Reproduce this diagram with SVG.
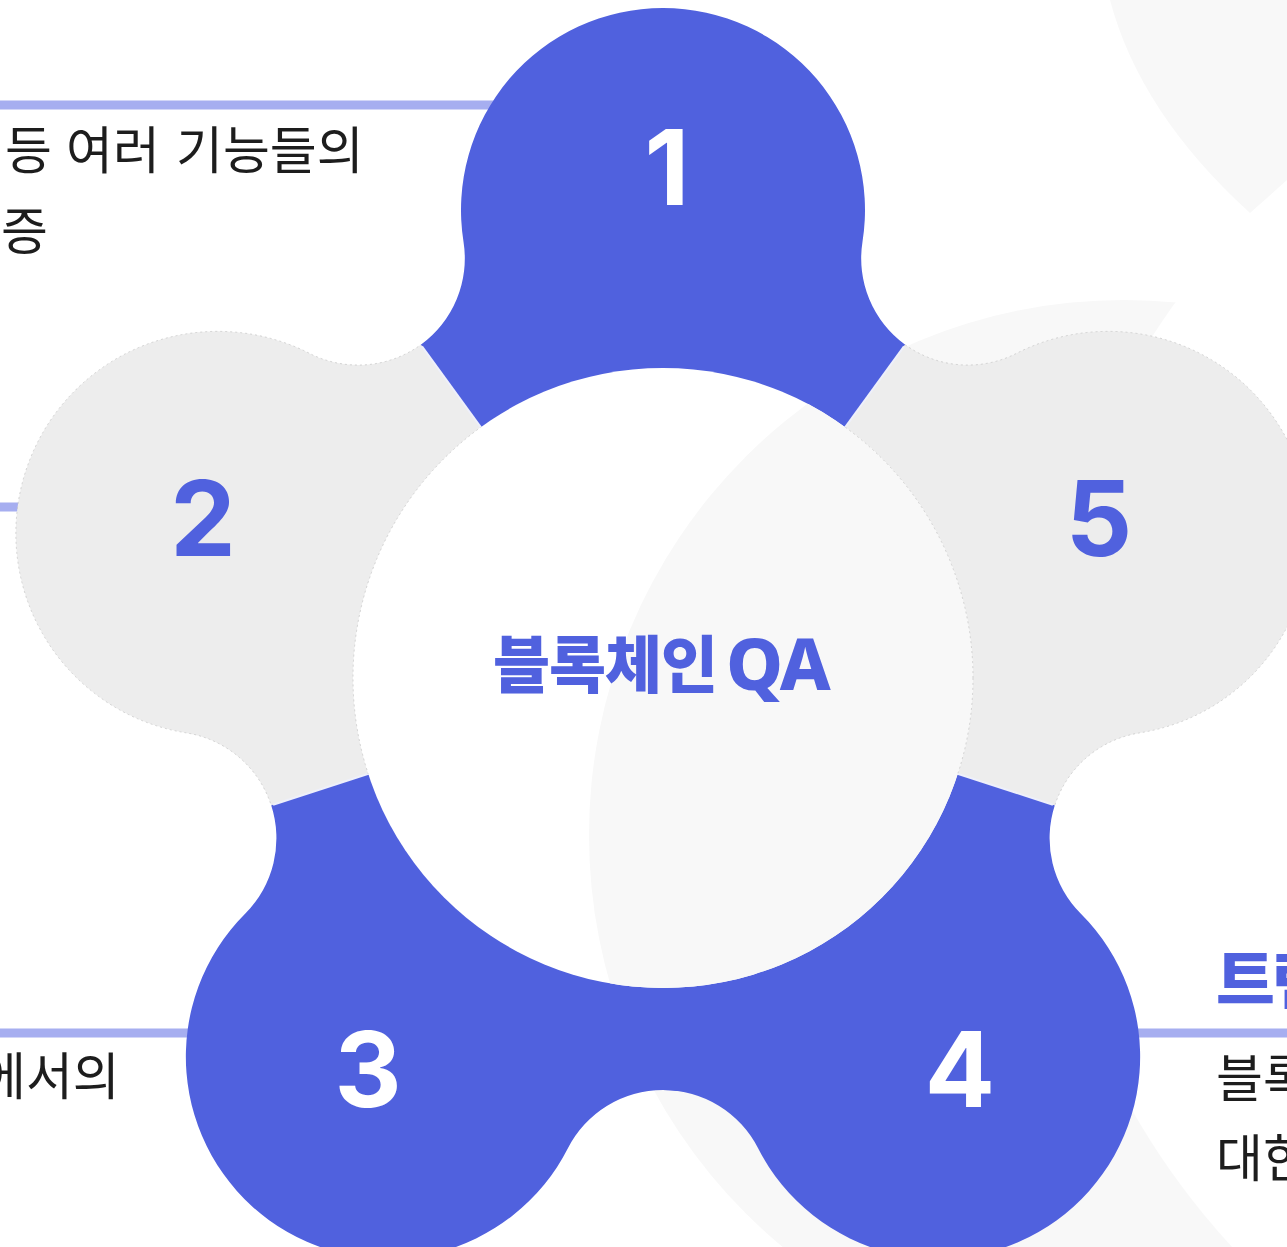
<svg xmlns="http://www.w3.org/2000/svg" width="1287" height="1247" viewBox="0 0 1287 1247">
<style>
.blue{fill:#5061de}
.grey{fill:#ededed}
.num{font-family:Inter,"Noto Sans",sans-serif;font-weight:700;font-size:104px;text-anchor:middle}
.numw{fill:#ffffff}
.numb{fill:#5061de}
.body{font-family:"Noto Sans CJK KR","Noto Sans",sans-serif;font-size:51px;fill:#1d1d1d}
.conn{stroke:#a6aef0;stroke-width:9;fill:none}
.div{stroke:#eef0fb;stroke-width:2}
.faint{fill:#f8f8f8}
.dash{fill:none;stroke:#c4c4c4;stroke-width:0.7;stroke-dasharray:2 3}
</style>
<defs>
<path id="flower" d="M463.5,241.7 A202,202 0 1 1 862.5,241.7 A106.7,106.7 0 0 0 1016.4,353.4 A202,202 0 1 1 1139.6,732.9 A106.7,106.7 0 0 0 1080.9,913.8 A202,202 0 1 1 758.1,1148.3 A106.7,106.7 0 0 0 567.9,1148.3 A202,202 0 1 1 245.1,913.8 A106.7,106.7 0 0 0 186.4,732.9 A202,202 0 1 1 309.6,353.4 A106.7,106.7 0 0 0 463.5,241.7 Z"/>
<clipPath id="w1"><polygon points="663,678 -218.7,-535.5 663,-822 1544.7,-535.5"/></clipPath>
<clipPath id="w5"><polygon points="663,678 1544.7,-535.5 2089.6,214.5 2089.6,1141.5"/></clipPath>
<clipPath id="w4"><polygon points="663,678 2089.6,1141.5 1544.7,1891.5 663,2178"/></clipPath>
<clipPath id="w3"><polygon points="663,678 715.3,2177.1 -218.7,1891.5 -763.6,1141.5"/></clipPath>
<clipPath id="w2"><polygon points="663,678 -763.6,1141.5 -763.6,214.5 -218.7,-535.5"/></clipPath>
<clipPath id="cc"><circle cx="663" cy="678" r="310"/></clipPath>
<mask id="fm" maskUnits="userSpaceOnUse" x="0" y="0" width="1287" height="1247">
<rect width="1287" height="1247" fill="#ffffff"/>
<circle cx="1782" cy="740" r="748" fill="#000000"/>
</mask>
</defs>
<rect width="1287" height="1247" fill="#ffffff"/>
<g id="background">
<circle class="faint" cx="1124" cy="835" r="535" mask="url(#fm)"/>
<path class="faint" d="M1110,0 Q1140,113 1250,213 L1287,180 L1287,0 Z"/>
</g>
<g id="connectors">
<line class="conn" x1="0" y1="105" x2="520" y2="105"/>
<line class="conn" x1="0" y1="507" x2="50" y2="507"/>
<line class="conn" x1="0" y1="1033" x2="240" y2="1033"/>
<line class="conn" x1="1100" y1="1033" x2="1287" y2="1033"/>
</g>
<g id="node-1">
<use href="#flower" class="blue" clip-path="url(#w1)"/>
<text class="num numw" x="667" y="205">1</text>
</g>
<g id="node-2">
<use href="#flower" class="grey" clip-path="url(#w2)"/>
<use href="#flower" class="dash" clip-path="url(#w2)"/>
<text class="num numb" x="203" y="556">2</text>
</g>
<g id="node-3">
<use href="#flower" class="blue" clip-path="url(#w3)"/>
<text class="num numw" x="368" y="1107">3</text>
</g>
<g id="node-4">
<use href="#flower" class="blue" clip-path="url(#w4)"/>
<text class="num numw" x="960" y="1107">4</text>
</g>
<g id="node-5">
<use href="#flower" class="grey" clip-path="url(#w5)"/>
<use href="#flower" class="dash" clip-path="url(#w5)"/>
<text class="num numb" x="1099" y="556">5</text>
</g>
<g id="dividers">
<line class="div" x1="486.7" y1="435.3" x2="422" y2="346.3"/>
<line class="div" x1="839.3" y1="435.3" x2="904" y2="346.3"/>
<line class="div" x1="948.3" y1="770.7" x2="1052.9" y2="804.7"/>
<line class="div" x1="377.7" y1="770.7" x2="273.1" y2="804.7"/>
</g>
<g id="node-center">
<circle cx="663" cy="678" r="310" fill="#ffffff"/>
<g clip-path="url(#cc)">
<circle class="faint" cx="1124" cy="835" r="535"/>
</g>
<circle cx="663" cy="678" r="310" class="dash" clip-path="url(#w5)"/>
<circle cx="663" cy="678" r="310" class="dash" clip-path="url(#w2)"/>
<text x="493" y="688" font-family="'Noto Sans CJK KR','Noto Sans',sans-serif" font-weight="900" fill="#5061de"><tspan font-size="62" letter-spacing="-1">블록체인</tspan><tspan x="726" y="690" font-family="'Noto Sans',Inter,sans-serif" font-weight="800" font-size="72" letter-spacing="-2">QA</tspan></text>
</g>
<g id="text-1">
<text class="body" y="169"><tspan x="5">등</tspan><tspan x="66">여러</tspan><tspan x="176">기능들의</tspan></text>
<text class="body" x="1" y="250">증</text>
</g>
<g id="text-3">
<text class="body" x="-21" y="1095">에서의</text>
</g>
<g id="text-4">
<text x="1216" y="1003" font-family="'Noto Sans CJK KR','Noto Sans',sans-serif" font-weight="900" font-size="64" fill="#5061de" letter-spacing="-3">트랜</text>
<text class="body" x="1216" y="1097">블록</text>
<text class="body" x="1216" y="1177">대한</text>
</g>
</svg>
